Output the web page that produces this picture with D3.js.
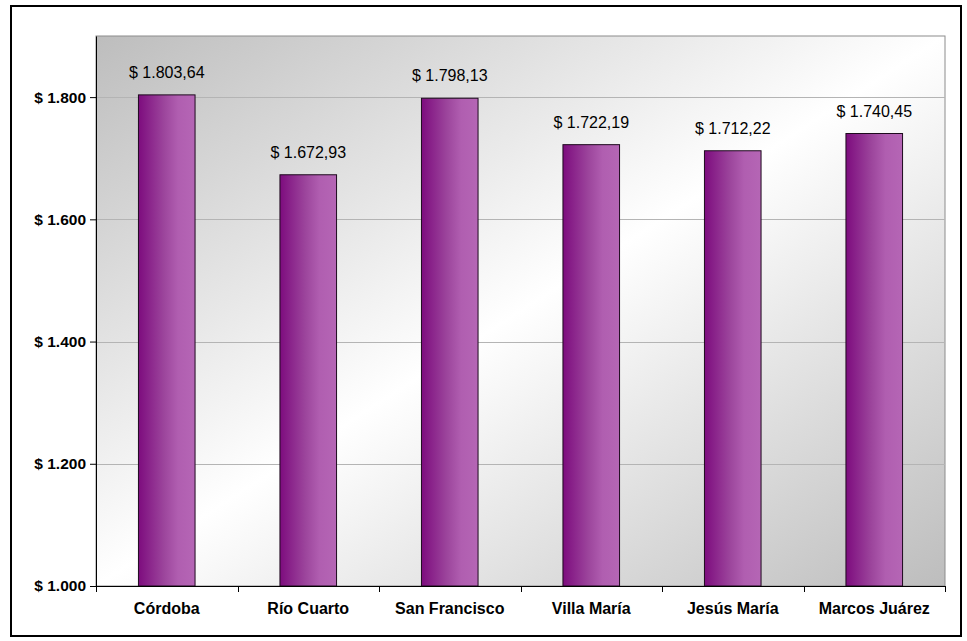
<!DOCTYPE html>
<html>
<head>
<meta charset="utf-8">
<script src="https://cdn.jsdelivr.net/npm/d3@7"></script>
<style>
  body { margin: 0; background: #fff; }
  svg { display: block; font-family: "Liberation Sans", Arial, sans-serif; }
</style>
</head>
<body>
<div id="chart"></div>
<script>
// data
const ciudades = ["Córdoba", "Río Cuarto", "San Francisco", "Villa María", "Jesús María", "Marcos Juárez"];
const importes = [1803.64, 1672.93, 1798.13, 1722.19, 1712.22, 1740.45];
const yTicks = [1000, 1200, 1400, 1600, 1800];

const W = 967, H = 641;
const margin = { top: 36, right: 22, bottom: 55, left: 96 },
    width = 945 - margin.left,
    height = 586 - margin.top;

const es = d3.formatLocale({ decimal: ",", thousands: ".", grouping: [3], currency: ["$ ", ""] });
const fmtVal = es.format("$,.2f");
const fmtAxis = es.format("$,.0f");

const svg = d3.select("#chart").append("svg")
    .attr("width", W)
    .attr("height", H);

const defs = svg.append("defs");
// plot background: gray corners, white across the middle
const bg = defs.append("linearGradient").attr("id", "bg")
    .attr("x1", 0).attr("y1", 0).attr("x2", 1).attr("y2", 1);
bg.append("stop").attr("offset", "0%").attr("stop-color", "#bdbdbd");
bg.append("stop").attr("offset", "50%").attr("stop-color", "#ffffff");
bg.append("stop").attr("offset", "100%").attr("stop-color", "#bdbdbd");

// bar fill: dark purple left to lighter right
const bar = defs.append("linearGradient").attr("id", "bar")
    .attr("x1", 0).attr("y1", 0).attr("x2", 1).attr("y2", 0);
bar.append("stop").attr("offset", "0%").attr("stop-color", "#7d0c7e");
bar.append("stop").attr("offset", "45%").attr("stop-color", "#9c459c");
bar.append("stop").attr("offset", "70%").attr("stop-color", "#b05eb0");
bar.append("stop").attr("offset", "100%").attr("stop-color", "#b566b5");

// outer frame
svg.append("rect")
    .attr("x", 11).attr("y", 6)
    .attr("width", 950).attr("height", 630)
    .attr("fill", "#fff")
    .attr("stroke", "#000")
    .attr("stroke-width", 2);

const g = svg.append("g")
    .attr("transform", `translate(${margin.left},${margin.top})`);

const x = d3.scaleBand()
    .domain(ciudades)
    .range([0, width])
    .paddingInner(0.6)
    .paddingOuter(0.3);

const y = d3.scaleLinear()
    .domain([1000, 1900])
    .range([height, 0]);

g.append("rect")
    .attr("width", width)
    .attr("height", height)
    .attr("fill", "url(#bg)")
    .attr("stroke", "#8c8c8c")
    .attr("stroke-width", 1);

// horizontal grid lines
g.append("g")
    .selectAll("line")
    .data(yTicks.slice(1))
    .enter()
    .append("line")
    .attr("x1", 0)
    .attr("x2", width)
    .attr("y1", d => Math.round(y(d)) + 0.5)
    .attr("y2", d => Math.round(y(d)) + 0.5)
    .attr("stroke", "#b4b4b4")
    .attr("stroke-width", 1);

// y axis
const yAxis = g.append("g")
    .call(d3.axisLeft(y).tickValues(yTicks).tickFormat(fmtAxis)
        .tickSizeInner(6).tickSizeOuter(0).tickPadding(4));
yAxis.select(".domain").attr("stroke", "#000");
yAxis.selectAll(".tick line").attr("stroke", "#000");
yAxis.selectAll("text")
    .attr("font-size", "15.5px")
    .attr("font-weight", "bold")
    .attr("fill", "#000")
    .attr("font-family", "Liberation Sans, Arial, sans-serif");

// bars
g.append("g")
    .selectAll("rect")
    .data(ciudades)
    .enter()
    .append("rect")
    .attr("x", d => x(d))
    .attr("y", (d, i) => y(importes[i]))
    .attr("width", x.bandwidth())
    .attr("height", (d, i) => height - y(importes[i]))
    .attr("fill", "url(#bar)")
    .attr("stroke", "#1e0a1e")
    .attr("stroke-width", 1);

// value labels
g.append("g")
    .selectAll("text")
    .data(ciudades)
    .enter()
    .append("text")
    .attr("x", d => x(d) + x.bandwidth() / 2)
    .attr("y", (d, i) => y(importes[i]) - 17)
    .attr("text-anchor", "middle")
    .attr("font-size", "16px")
    .attr("fill", "#000")
    .text((d, i) => fmtVal(importes[i]));

// x axis: line, boundary ticks, labels
const xAxis = g.append("g").attr("transform", `translate(0,${height})`);
xAxis.append("line")
    .attr("x1", 0).attr("x2", width)
    .attr("y1", 0.5).attr("y2", 0.5)
    .attr("stroke", "#000");
const bounds = d3.range(ciudades.length + 1).map(i => i * x.step());
xAxis.selectAll(".bt")
    .data(bounds)
    .enter()
    .append("line")
    .attr("class", "bt")
    .attr("x1", d => Math.round(d) + 0.5)
    .attr("x2", d => Math.round(d) + 0.5)
    .attr("y1", 0)
    .attr("y2", 6)
    .attr("stroke", "#000");
xAxis.selectAll(".lbl")
    .data(ciudades)
    .enter()
    .append("text")
    .attr("class", "lbl")
    .attr("x", d => x(d) + x.bandwidth() / 2)
    .attr("y", 28)
    .attr("text-anchor", "middle")
    .attr("font-size", "16px")
    .attr("font-weight", "bold")
    .attr("fill", "#000")
    .text(d => d);
</script>
</body>
</html>
